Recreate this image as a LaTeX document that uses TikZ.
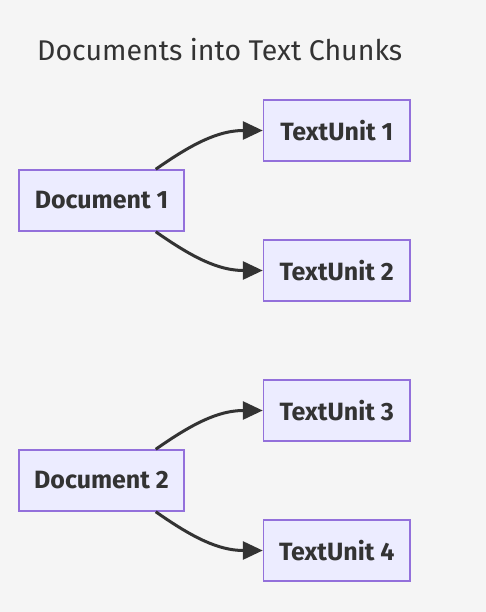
\documentclass[tikz,border=0pt]{standalone}
\usepackage{fontspec}
\setmainfont{Fira Sans}
\usepackage{tikz}
\usetikzlibrary{arrows.meta,positioning}
\definecolor{pagegray}{HTML}{F5F5F5}
\definecolor{boxfill}{HTML}{ECECFF}
\definecolor{boxline}{HTML}{9370DB}
\definecolor{inkgray}{HTML}{333333}

\begin{document}
\begin{tikzpicture}[
x=1pt,y=-1pt,
doc/.style={draw=boxline,line width=1.5pt,fill=boxfill,minimum width=165pt,minimum height=61pt,inner sep=0pt,
  text=inkgray,font=\fontsize{25}{30}\selectfont\bfseries},
unit/.style={doc,minimum width=146.5pt},
arr/.style={-{Triangle[length=20pt,width=18pt]},line width=3pt,inkgray}
]
\useasboundingbox[fill=pagegray] (0,0) rectangle (486,612);
\node[anchor=base west,inner sep=0pt,text=inkgray,font=\fontsize{28.5}{32}\selectfont] (title) at (37,61) {Documents into Text Chunks};
\node[doc] (d1) at (101.5,200.5) {Document 1};
\node[unit,right=78pt of d1,yshift=70pt] (t1) {TextUnit 1};
\node[unit,right=78pt of d1,yshift=-70pt] (t2) {TextUnit 2};
\node[doc] (d2) at (101.5,480.5) {Document 2};
\node[unit,right=78pt of d2,yshift=70pt] (t3) {TextUnit 3};
\node[unit,right=78pt of d2,yshift=-70pt] (t4) {TextUnit 4};
\draw[arr] ([xshift=-29pt]d1.north east) to[out=35,in=180] (t1.west);
\draw[arr] ([xshift=-29pt]d1.south east) to[out=-35,in=180] (t2.west);
\draw[arr] ([xshift=-29pt]d2.north east) to[out=35,in=180] (t3.west);
\draw[arr] ([xshift=-29pt]d2.south east) to[out=-35,in=180] (t4.west);
\end{tikzpicture}
\end{document}
